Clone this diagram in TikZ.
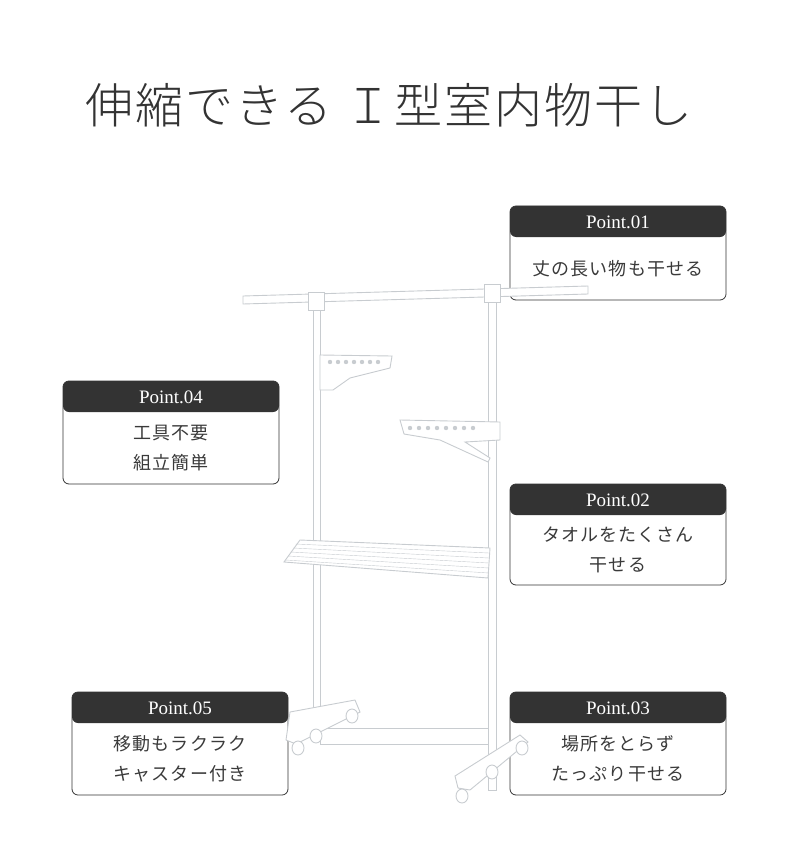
\documentclass[tikz,border=0pt]{standalone}
\usepackage{fontspec}
\newfontfamily\jpfont{Noto Sans CJK JP}[LetterSpace=6]
\newfontfamily\serifjp{Noto Sans CJK JP Light}[LetterSpace=4]
\setmainfont{Liberation Serif}
\definecolor{headgray}{HTML}{333333}
\definecolor{txtgray}{HTML}{3A3A3A}
\definecolor{rackline}{HTML}{C8CCD0}
\tikzset{
  pointbox/.style={draw=headgray, rounded corners=6pt, fill=white, line width=0.8pt},
  pointtext/.style={text=txtgray, align=center, font=\jpfont\fontsize{18}{30}\selectfont},
  rack/.style={draw=rackline, fill=white, line width=0.9pt},
}
% one callout: left, top, right, bottom, name, title, text
\newcommand{\pointcallout}[7]{%
  \draw[pointbox] (#1,#2) rectangle (#3,#4);
  \fill[headgray, rounded corners=6pt] (#1,#2+31) -- (#1,#2) -- (#3,#2) -- (#3,#2+31) -- cycle;
  \node[text=white, font=\fontsize{19}{19}\selectfont] (#5h) at ({(#1+#3)/2},#2+16) {#6};
  \node[pointtext] (#5) at ({(#1+#3)/2},{(#2+31+#4)/2}) {#7};
}
\begin{document}
\begin{tikzpicture}[x=1pt,y=-1pt]
\useasboundingbox (0,0) rectangle (790,850);

\node[text=headgray, font=\serifjp\fontsize{48}{48}\selectfont] (title) at (389,105) {伸縮できる\ Ｉ型室内物干し};

% callouts
\pointcallout{510}{206}{726}{300}{pa}{Point.01}{丈の長い物も干せる}
\pointcallout{510}{484}{726}{585}{pb}{Point.02}{タオルをたくさん\\干せる}
\pointcallout{510}{692}{726}{795}{pc}{Point.03}{場所をとらず\\たっぷり干せる}
\pointcallout{63}{381}{279}{484}{pd}{Point.04}{工具不要\\組立簡単}
\pointcallout{72}{692}{288}{795}{pe}{Point.05}{移動もラクラク\\キャスター付き}

% rack
\draw[rack] (313,300) rectangle (320,730);
\draw[rack] (488,292) rectangle (496,790);
\draw[rack] (243,296) -- (588,286) -- (588,294) -- (243,304) -- cycle;
\draw[rack] (308,292) rectangle (324,310);
\draw[rack] (484,284) rectangle (500,302);
\draw[rack] (320,355) -- (392,356) -- (390,368) -- (350,378) -- (333,390) -- (320,390) -- cycle;
\draw[rack] (400,420) -- (500,422) -- (500,440) -- (465,442) -- (490,458) -- (488,462) -- (440,440) -- (404,434) -- cycle;
\foreach \i in {0,...,6} \fill[rackline] (330+\i*8,362) circle (2.2);
\foreach \i in {0,...,7} \fill[rackline] (410+\i*9,428) circle (2.2);
% shelf
\draw[rack] (300,540) -- (490,548) -- (488,578) -- (284,562) -- cycle;
\foreach \i in {1,...,5} \draw[rackline] (298-\i*2.5,540+\i*4) -- (489,548+\i*5);
% base
\draw[rack] (320,728) rectangle (488,744);
\draw[rack] (290,712) -- (355,700) -- (360,712) -- (296,744) -- (286,740) -- cycle;
\draw[rack] (455,776) -- (520,735) -- (528,742) -- (470,790) -- (458,788) -- cycle;
\foreach \p in {(298,748),(352,716),(316,736),(462,796),(492,772),(522,748)}
  \draw[rack] \p ellipse (6 and 7);
\end{tikzpicture}
\end{document}
